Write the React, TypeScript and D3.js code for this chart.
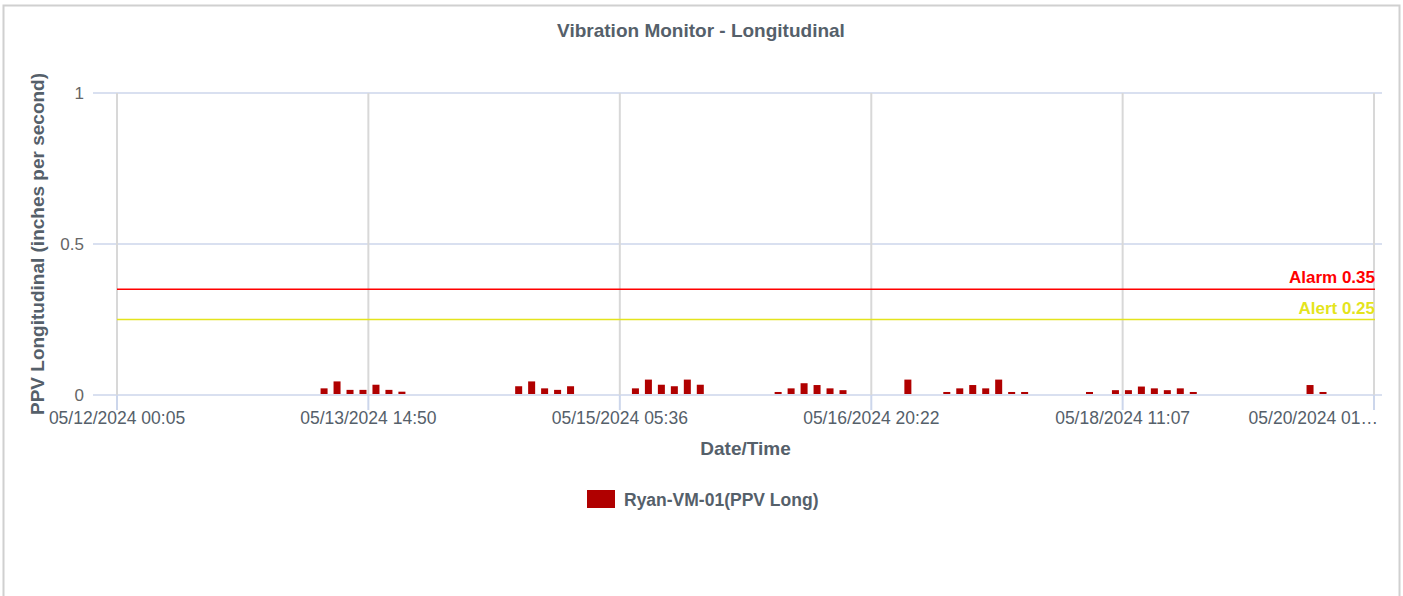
import React from "react";
import * as d3 from "d3";

const chartTitle = "Vibration Monitor - Longitudinal";
const yAxisTitle = "PPV Longitudinal (inches per second)";
const xAxisTitle = "Date/Time";
const seriesName = "Ryan-VM-01(PPV Long)";

const domainStart = "2024-05-12 00:05";
const domainEnd = "2024-05-20 01:52";

const tickTimes = [
  "2024-05-12 00:05",
  "2024-05-13 14:50",
  "2024-05-15 05:36",
  "2024-05-16 20:22",
  "2024-05-18 11:07",
  "2024-05-20 01:52",
];
const tickLabels = [
  "05/12/2024 00:05",
  "05/13/2024 14:50",
  "05/15/2024 05:36",
  "05/16/2024 20:22",
  "05/18/2024 11:07",
  "05/20/2024 01…",
];

const yTicks = [0, 0.5, 1];

const times = [
  "2024-05-13 08:05", "2024-05-13 10:05", "2024-05-13 12:05", "2024-05-13 14:05",
  "2024-05-13 16:05", "2024-05-13 18:05", "2024-05-13 20:05",
  "2024-05-14 14:05", "2024-05-14 16:05", "2024-05-14 18:05", "2024-05-14 20:05",
  "2024-05-14 22:05",
  "2024-05-15 08:05", "2024-05-15 10:05", "2024-05-15 12:05", "2024-05-15 14:05",
  "2024-05-15 16:05", "2024-05-15 18:05",
  "2024-05-16 06:05", "2024-05-16 08:05", "2024-05-16 10:05", "2024-05-16 12:05",
  "2024-05-16 14:05", "2024-05-16 16:05",
  "2024-05-17 02:05",
  "2024-05-17 08:05", "2024-05-17 10:05", "2024-05-17 12:05", "2024-05-17 14:05",
  "2024-05-17 16:05", "2024-05-17 18:05", "2024-05-17 20:05",
  "2024-05-18 06:05",
  "2024-05-18 10:05", "2024-05-18 12:05", "2024-05-18 14:05", "2024-05-18 16:05",
  "2024-05-18 18:05", "2024-05-18 20:05", "2024-05-18 22:05",
  "2024-05-19 16:05", "2024-05-19 18:05",
];
const values = [
  0.022, 0.045, 0.017, 0.017, 0.034, 0.017, 0.011,
  0.029, 0.045, 0.022, 0.017, 0.029,
  0.022, 0.051, 0.034, 0.029, 0.051, 0.034,
  0.01, 0.022, 0.039, 0.033, 0.022, 0.016,
  0.051,
  0.01, 0.022, 0.033, 0.022, 0.051, 0.01, 0.01,
  0.01,
  0.016, 0.016, 0.028, 0.022, 0.016, 0.022, 0.01,
  0.033, 0.01,
];

const thresholdNames = ["Alarm", "Alert"];
const thresholdValues = [0.35, 0.25];
const thresholdColors = ["#ff0000", "#e4e41c"];

const W = 1403;
const H = 596;
const plot = { left: 117, right: 1374, top: 93, bottom: 395 };
const font = "'Liberation Sans', Arial, sans-serif";
const textColor = "#55606a";
const barColor = "#b00000";
const hGridColor = "#ccd6eb";
const vGridColor = "#d8d8d8";

export default function App() {
  const parse = d3.timeParse("%Y-%m-%d %H:%M");
  const x = d3
    .scaleTime()
    .domain([parse(domainStart)!, parse(domainEnd)!])
    .range([plot.left, plot.right]);
  const y = d3.scaleLinear().domain([0, 1]).range([plot.bottom, plot.top]);

  const t0 = parse(times[0])!;
  const step = x(d3.timeHour.offset(t0, 2)) - x(t0);
  const barW = step * 0.54;

  const data = times.map((t, i) => ({ t: parse(t)!, v: values[i] }));

  return (
    <svg
      width={W}
      height={H}
      style={{ position: "absolute", left: 0, top: 0, background: "#fff" }}
      fontFamily={font}
    >
      <rect x={3.5} y={5.5} width={1396} height={H + 10} fill="#fff" stroke="#d0d0d0" strokeWidth={2} />

      <text x={701} y={37} textAnchor="middle" fontSize={19} fontWeight="bold" fill={textColor}>
        {chartTitle}
      </text>

      {/* horizontal grid */}
      {yTicks.map((t) => (
        <g key={"y" + t}>
          <line x1={93} x2={1382} y1={y(t)} y2={y(t)} stroke={hGridColor} strokeWidth={1.5} />
          <text x={84} y={y(t) + 6} textAnchor="end" fontSize={17} fill="#666">
            {d3.format("")(t)}
          </text>
        </g>
      ))}

      {/* vertical grid + x ticks */}
      {tickTimes.map((t, i) => {
        const xp = x(parse(t)!);
        const last = i === tickTimes.length - 1;
        return (
          <g key={"x" + t}>
            <line x1={xp} x2={xp} y1={plot.top} y2={plot.bottom} stroke={vGridColor} strokeWidth={2} />
            <line x1={xp} x2={xp} y1={plot.bottom} y2={410} stroke={hGridColor} strokeWidth={2} />
            <text
              x={last ? 1378 : xp}
              y={424}
              textAnchor={last ? "end" : "middle"}
              fontSize={17.5}
              fill={textColor}
            >
              {tickLabels[i]}
            </text>
          </g>
        );
      })}

      {/* thresholds */}
      {thresholdValues.map((v, i) => (
        <g key={"th" + i}>
          <line
            x1={plot.left}
            x2={plot.right + 1}
            y1={y(v)}
            y2={y(v)}
            stroke={thresholdColors[i]}
            strokeWidth={1.5}
          />
          <text
            x={plot.right + 1}
            y={y(v) - 6}
            textAnchor="end"
            fontSize={17}
            fontWeight="bold"
            fill={thresholdColors[i]}
          >
            {thresholdNames[i] + " " + v}
          </text>
        </g>
      ))}

      {/* bars */}
      {data.map((d, i) => (
        <rect
          key={"b" + i}
          x={x(d.t) - barW / 2 - 0.5}
          y={y(d.v)}
          width={barW}
          height={y(0) - y(d.v) - 1}
          fill={barColor}
        />
      ))}

      {/* axis titles */}
      <text
        transform={`translate(44,${(plot.top + plot.bottom) / 2}) rotate(-90)`}
        textAnchor="middle"
        fontSize={19}
        fontWeight="bold"
        fill={textColor}
      >
        {yAxisTitle}
      </text>
      <text
        x={(plot.left + plot.right) / 2}
        y={455}
        textAnchor="middle"
        fontSize={19}
        fontWeight="bold"
        fill={textColor}
      >
        {xAxisTitle}
      </text>

      {/* legend */}
      <rect x={587} y={490} width={28} height={18} fill={barColor} />
      <text x={624} y={506} fontSize={17.5} fontWeight="bold" fill={textColor}>
        {seriesName}
      </text>
    </svg>
  );
}
